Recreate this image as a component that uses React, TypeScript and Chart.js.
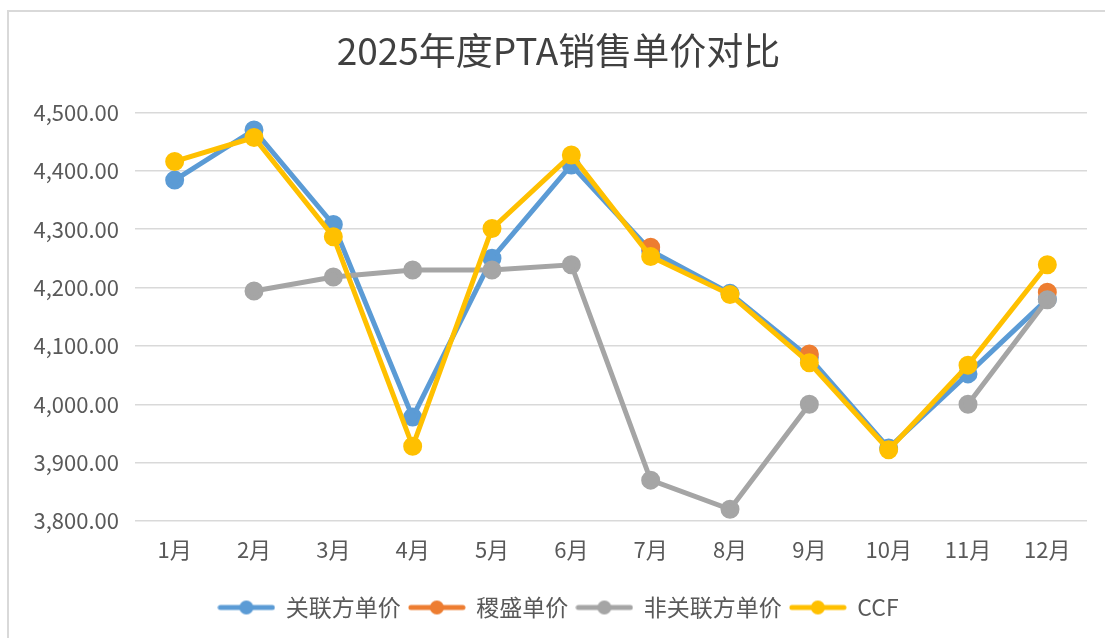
import React, { useEffect, useRef } from "react";
import { Chart, registerables } from "chart.js";

Chart.register(...registerables);

const months = ["1月", "2月", "3月", "4月", "5月", "6月", "7月", "8月", "9月", "10月", "11月", "12月"];
const relatedPrice = [4384, 4470, 4308, 3978, 4250, 4410, 4263, 4190, 4080, 3925, 4052, 4180];
const jishengPrice = [null, null, null, null, null, null, 4269, null, 4086, null, null, 4192];
const nonRelatedPrice = [null, 4194, 4218, 4230, 4230, 4239, 3870, 3820, 4000, null, 4000, 4179];
const ccfPrice = [4416, 4457, 4287, 3928, 4301, 4427, 4253, 4188, 4071, 3922, 4067, 4239];

const seriesNames = ["关联方单价", "稷盛单价", "非关联方单价", "CCF"];
const seriesColors = ["#5B9BD5", "#ED7D31", "#A5A5A5", "#FFC000"];
const yTicks = [3800, 3900, 4000, 4100, 4200, 4300, 4400, 4500];

const FONT = "'Noto Sans CJK SC', 'Noto Sans', sans-serif";

function legendMarker(color: string): HTMLCanvasElement {
  const c = document.createElement("canvas");
  c.width = 58;
  c.height = 18;
  const ctx = c.getContext("2d")!;
  ctx.strokeStyle = color;
  ctx.lineWidth = 5;
  ctx.lineCap = "round";
  ctx.beginPath();
  ctx.moveTo(3, 9);
  ctx.lineTo(55, 9);
  ctx.stroke();
  ctx.fillStyle = color;
  ctx.beginPath();
  ctx.arc(29, 9, 7, 0, Math.PI * 2);
  ctx.fill();
  return c;
}

export default function App() {
  const ref = useRef<HTMLCanvasElement | null>(null);

  useEffect(() => {
    if (!ref.current) return;
    const allData = [relatedPrice, jishengPrice, nonRelatedPrice, ccfPrice];
    const markers = seriesColors.map((c) => legendMarker(c));
    const chart = new Chart(ref.current, {
      type: "line",
      data: {
        labels: months,
        datasets: allData.map((d, i) => ({
          label: seriesNames[i],
          data: d,
          borderColor: seriesColors[i],
          backgroundColor: seriesColors[i],
          pointBackgroundColor: seriesColors[i],
          pointBorderColor: seriesColors[i],
          borderWidth: 5,
          pointRadius: 7,
          pointHoverRadius: 7,
          spanGaps: false,
          tension: 0,
          order: 3 - i,
        })),
      },
      options: {
        animation: false,
        responsive: false,
        devicePixelRatio: 1,
        layout: { padding: { left: 30, right: 18, top: 0, bottom: 9 } },
        plugins: {
          tooltip: { enabled: false },
          title: {
            display: true,
            text: "2025年度PTA销售单价对比",
            color: "#404040",
            font: { family: FONT, size: 37, weight: "normal" },
            padding: { top: 29, bottom: 39 },
          },
          legend: {
            display: true,
            position: "bottom",
            labels: {
              usePointStyle: true,
              pointStyleWidth: 56,
              padding: 8,
              color: "#595959",
              font: { family: FONT, size: 23 },
              generateLabels: () =>
                seriesNames.map((n, i) => ({
                  text: n,
                  fillStyle: seriesColors[i],
                  strokeStyle: seriesColors[i],
                  lineWidth: 0,
                  pointStyle: markers[i] as any,
                  hidden: false,
                  datasetIndex: i,
                  fontColor: "#595959",
                })),
            },
          },
        },
        scales: {
          x: {
            offset: true,
            grid: { display: false, drawTicks: false },
            border: { display: false },
            ticks: {
              color: "#595959",
              font: { family: FONT, size: 22 },
              padding: 15,
              maxRotation: 0,
              autoSkip: false,
            },
            afterFit: (s: any) => {
              s.height = 67;
            },
          },
          y: {
            min: 3800,
            max: 4500,
            afterBuildTicks: (s: any) => {
              s.ticks = yTicks.map((v) => ({ value: v }));
            },
            grid: { color: "#d9d9d9", lineWidth: 1.5, drawTicks: false },
            border: { display: false },
            ticks: {
              color: "#595959",
              font: { family: FONT, size: 22 },
              padding: 16,
              callback: (v: any) =>
                Number(v).toLocaleString("en-US", { minimumFractionDigits: 2, maximumFractionDigits: 2 }),
            },
            afterFit: (s: any) => {
              s.width = 105;
            },
          },
        },
      },
    });
    return () => chart.destroy();
  }, []);

  return (
    <div>
      <div
        style={{
          position: "fixed",
          left: 7,
          top: 10,
          width: 1300,
          height: 800,
          borderTop: "2px solid #d9d9d9",
          borderLeft: "2px solid #d9d9d9",
          boxSizing: "border-box",
        }}
      />
      <canvas
        ref={ref}
        width={1105}
        height={638}
        style={{ position: "fixed", left: 0, top: 0, width: 1105, height: 638 }}
      />
    </div>
  );
}
